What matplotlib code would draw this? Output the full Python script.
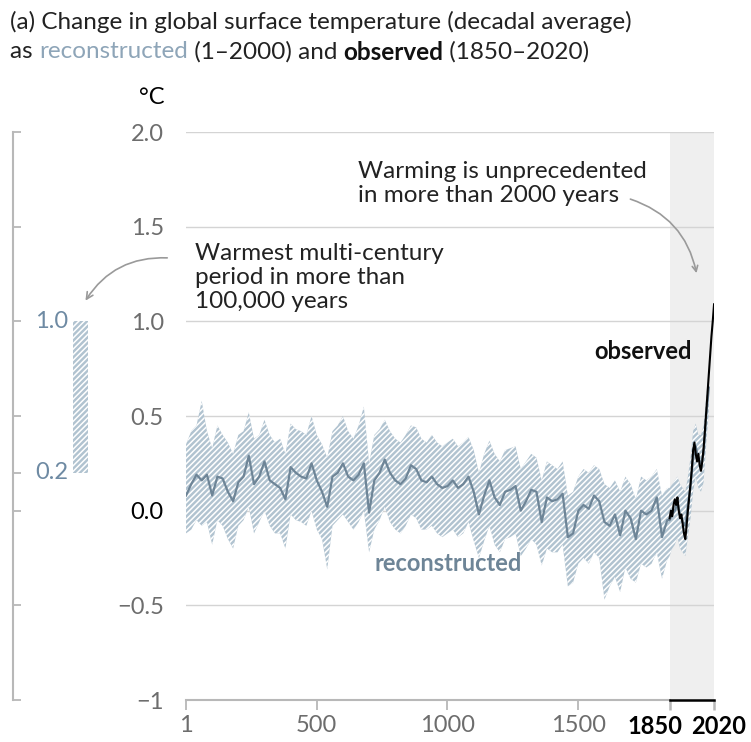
import numpy as np
import matplotlib
matplotlib.use('Agg')
import matplotlib.pyplot as plt
from matplotlib.patches import FancyArrowPatch

plt.rcParams['font.family'] = ['Lato', 'DejaVu Sans']
plt.rcParams['hatch.linewidth'] = 1.1

# reconstructed (20-yr steps to 1841, then decadal)
recon_years = list(range(1, 1850, 20)) + list(range(1850, 2001, 10))
recon_mid = [0.08, 0.14, 0.19, 0.16, 0.19, 0.08, 0.18, 0.17, 0.10, 0.05,
             0.15, 0.18, 0.29, 0.14, 0.18, 0.26, 0.16, 0.14, 0.12, 0.06,
             0.23, 0.20, 0.18, 0.17, 0.25, 0.16, 0.10, 0.02, 0.18, 0.20,
             0.25, 0.18, 0.16, 0.19, 0.25, -0.01, 0.16, 0.20, 0.27, 0.20,
             0.16, 0.14, 0.17, 0.24, 0.22, 0.16, 0.15, 0.18, 0.14, 0.12,
             0.13, 0.16, 0.12, 0.14, 0.18, 0.10, -0.02, 0.08, 0.16, 0.07,
             0.03, 0.10, 0.11, 0.13, 0.00, 0.05, 0.11, 0.10, -0.06, 0.07,
             0.05, 0.06, 0.09, -0.14, -0.12, 0.00, 0.03, 0.01, 0.08, 0.05,
             -0.06, -0.08, -0.02, -0.13, 0.00, -0.04, -0.15, 0.00, -0.02, 0.00,
             0.07, -0.14, -0.05,
             -0.05, -0.02, 0.00, 0.04, -0.02, -0.06, -0.08, 0.03, 0.13, 0.28,
             0.34, 0.27, 0.25, 0.30, 0.50, 0.65]
recon_low = [-0.12, -0.10, -0.05, -0.08, -0.06, -0.18, -0.05, -0.08, -0.15, -0.20,
             -0.08, -0.05, 0.02, -0.12, -0.06, 0.00, -0.08, -0.12, -0.12, -0.20,
             -0.02, -0.05, -0.06, -0.08, 0.00, -0.10, -0.15, -0.31, -0.08, -0.05,
             -0.02, -0.06, -0.10, -0.06, 0.00, -0.22, -0.10, -0.05, 0.02, -0.06,
             -0.10, -0.12, -0.08, -0.02, -0.04, -0.10, -0.10, -0.08, -0.12, -0.14,
             -0.12, -0.10, -0.14, -0.12, -0.06, -0.16, -0.25, -0.16, -0.08, -0.18,
             -0.22, -0.15, -0.14, -0.12, -0.24, -0.20, -0.15, -0.18, -0.29, -0.20,
             -0.22, -0.22, -0.18, -0.40, -0.38, -0.28, -0.25, -0.28, -0.22, -0.25,
             -0.47, -0.40, -0.35, -0.43, -0.30, -0.36, -0.38, -0.28, -0.30, -0.28,
             -0.22, -0.36, -0.26,
             -0.24, -0.20, -0.18, -0.14, -0.20, -0.22, -0.24, -0.14, -0.04, 0.10,
             0.18, 0.12, 0.10, 0.15, 0.35, 0.52]
recon_high = [0.35, 0.42, 0.45, 0.58, 0.42, 0.33, 0.45, 0.40, 0.36, 0.30,
              0.40, 0.42, 0.52, 0.38, 0.40, 0.48, 0.40, 0.36, 0.38, 0.30,
              0.46, 0.43, 0.42, 0.40, 0.50, 0.40, 0.35, 0.28, 0.42, 0.45,
              0.50, 0.42, 0.38, 0.45, 0.55, 0.25, 0.40, 0.43, 0.48, 0.42,
              0.38, 0.36, 0.40, 0.45, 0.44, 0.38, 0.36, 0.40, 0.36, 0.34,
              0.36, 0.38, 0.34, 0.36, 0.39, 0.32, 0.20, 0.30, 0.37, 0.30,
              0.26, 0.32, 0.33, 0.34, 0.22, 0.26, 0.30, 0.28, 0.16, 0.26,
              0.24, 0.22, 0.26, 0.08, 0.10, 0.18, 0.22, 0.20, 0.24, 0.22,
              0.14, 0.12, 0.16, 0.10, 0.18, 0.14, 0.06, 0.18, 0.16, 0.18,
              0.22, 0.08, 0.12,
              0.12, 0.14, 0.16, 0.18, 0.14, 0.12, 0.10, 0.18, 0.28, 0.42,
              0.46, 0.40, 0.40, 0.45, 0.60, 0.75]

# observed, 5-yr steps
obs_years = list(range(1850, 2021, 5))
obs_vals = [-0.04, 0.00, -0.03, 0.03, 0.06, 0.03, 0.07, 0.00, -0.04, -0.02,
            -0.07, -0.12, -0.15, -0.08, 0.00, 0.07, 0.14, 0.22, 0.32, 0.36,
            0.30, 0.26, 0.30, 0.24, 0.21, 0.26, 0.33, 0.42, 0.52, 0.62,
            0.72, 0.82, 0.92, 1.00, 1.09]

# warmest multi-century range (left scale)
warm_range = [0.2, 1.0]

y_ticks = [-1, -0.5, 0, 0.5, 1, 1.5, 2]
y_labels = ['\u22121', '\u22120.5', '0.0', '0.5', '1.0', '1.5', '2.0']
x_ticks = [1, 500, 1000, 1500, 1850, 2020]
x_labels = ['1', '500', '1000', '1500', '', '']

grey_txt = '#6d6d6d'
axis_grey = '#b8b8b8'
blue_txt = '#6e8aa3'
band_col = '#b1c3d0'
hatch = '//////'
fs = 17
fs_a = 17.5

fig = plt.figure(figsize=(7.51, 7.42), dpi=100)
ax = fig.add_axes([0.2477, 0.0566, 0.7031, 0.7655])
ax.set_xlim(1, 2020)
ax.set_ylim(-1, 2)

ax.axvspan(1850, 2020, color='#efefef', lw=0, zorder=0)
for y in y_ticks[1:]:
    ax.axhline(y, color='#d4d4d4', lw=1, zorder=1)

ax.fill_between(recon_years, recon_low, recon_high, facecolor=band_col,
                edgecolor='white', hatch=hatch, lw=0, zorder=2)
ax.plot(recon_years, recon_mid, color='#6e8597', lw=1.6, zorder=3)
ax.plot(obs_years, obs_vals, color='black', lw=1.5, zorder=4)

for s in ['top', 'right', 'left']:
    ax.spines[s].set_visible(False)
ax.spines['bottom'].set_color(axis_grey)
ax.spines['bottom'].set_linewidth(1.5)
ax.spines['bottom'].set_bounds(1, 1850)
ax.plot([1850, 2020], [-1, -1], color='black', lw=1.8, clip_on=False, zorder=5)

ax.set_xticks(x_ticks)
ax.set_xticklabels(x_labels)
ax.tick_params(axis='x', direction='out', length=7, width=1.3, color=axis_grey,
               labelcolor=grey_txt, labelsize=fs, pad=4)
for t in ax.xaxis.get_major_ticks()[4:]:
    t.tick1line.set_color('black')
    t.tick1line.set_markeredgewidth(1.8)
ax.annotate('1850', xy=(1850, 0), xycoords=('data', 'axes fraction'),
            xytext=(9, -11), textcoords='offset points', ha='right', va='top',
            fontsize=fs, fontweight='bold', color='black')
ax.annotate('2020', xy=(2020, 0), xycoords=('data', 'axes fraction'),
            xytext=(3, -11), textcoords='offset points', ha='center', va='top',
            fontsize=fs, fontweight='bold', color='black')

ax.set_yticks(y_ticks)
ax.set_yticklabels(y_labels)
ax.tick_params(axis='y', length=0, labelcolor=grey_txt, labelsize=fs, pad=16)
ax.get_yticklabels()[2].set_color('black')
fig.text(165 / 751, 1 - 98 / 742, '\u00b0C', ha='right', va='center', fontsize=fs)

ax.text(1935, 0.84, 'observed', ha='right', va='center', fontsize=fs,
        fontweight='bold', color='#111111')
ax.text(1003, -0.28, 'reconstructed', ha='center', va='center', fontsize=fs,
        fontweight='bold', color='#6e8597')

ax.text(36, 1.23, 'Warmest multi-century\nperiod in more than\n100,000 years',
        ha='left', va='center', fontsize=fs_a, linespacing=1.18, color='#222222')
ax.text(657, 1.73, 'Warming is unprecedented\nin more than 2000 years',
        ha='left', va='center', fontsize=fs_a, linespacing=1.18, color='#222222')

ax.annotate('', xy=(1955, 1.24), xytext=(1690, 1.65),
            arrowprops=dict(arrowstyle='->', color='#9a9a9a', lw=1.2,
                            connectionstyle='arc3,rad=-0.3'))
fig.patches.append(FancyArrowPatch(
    (170 / 751, 1 - 258 / 742), (84 / 751, 1 - 303 / 742),
    transform=fig.transFigure, arrowstyle='->', mutation_scale=12,
    color='#9a9a9a', lw=1.2, connectionstyle='arc3,rad=0.3'))

# left side scale
ax2 = fig.add_axes([13 / 751, 0.0566, 0.15, 0.7655])
ax2.set_xlim(0, 1)
ax2.set_ylim(-1, 2)
ax2.patch.set_visible(False)
for s in ['top', 'right', 'bottom']:
    ax2.spines[s].set_visible(False)
ax2.spines['left'].set_color(axis_grey)
ax2.spines['left'].set_linewidth(1.5)
ax2.set_xticks([])
ax2.set_yticks([-1, -0.5, 0, 0.2, 0.5, 1, 1.5, 2])
ax2.tick_params(axis='y', direction='in', length=6, width=1.3, color=axis_grey,
                labelleft=False)
ax2.bar(0.6, warm_range[1] - warm_range[0], bottom=warm_range[0], width=0.133,
        facecolor=band_col, edgecolor='white', hatch=hatch, lw=0)
ax2.text(0.195, warm_range[1], '1.0', ha='left', va='center', fontsize=fs, color=blue_txt)
ax2.text(0.195, warm_range[0], '0.2', ha='left', va='center', fontsize=fs, color=blue_txt)

# title
fs_t = 17.5
fig.text(10 / 751, 1 - 22 / 742,
         '(a) Change in global surface temperature (decadal average)',
         ha='left', va='center', fontsize=fs_t, color='#222222')

r = fig.canvas.get_renderer()


def advance(s, weight):
    t = fig.text(0, 0, s + '|', fontsize=fs_t, fontweight=weight)
    w1 = t.get_window_extent(renderer=r).width
    t.set_text('|')
    w2 = t.get_window_extent(renderer=r).width
    t.remove()
    return w1 - w2


pieces = [('as ', '#222222', 'normal'),
          ('reconstructed', '#8ea5b8', 'normal'),
          (' (1\u20132000) and ', '#222222', 'normal'),
          ('observed', '#111111', 'bold'),
          (' (1850\u20132020)', '#222222', 'normal')]
xpix = 10
for txt, col, wt in pieces:
    fig.text(xpix / 751, 1 - 52 / 742, txt, ha='left', va='center',
             fontsize=fs_t, color=col, fontweight=wt)
    xpix += advance(txt, wt)

plt.savefig('out.png', dpi=100)
